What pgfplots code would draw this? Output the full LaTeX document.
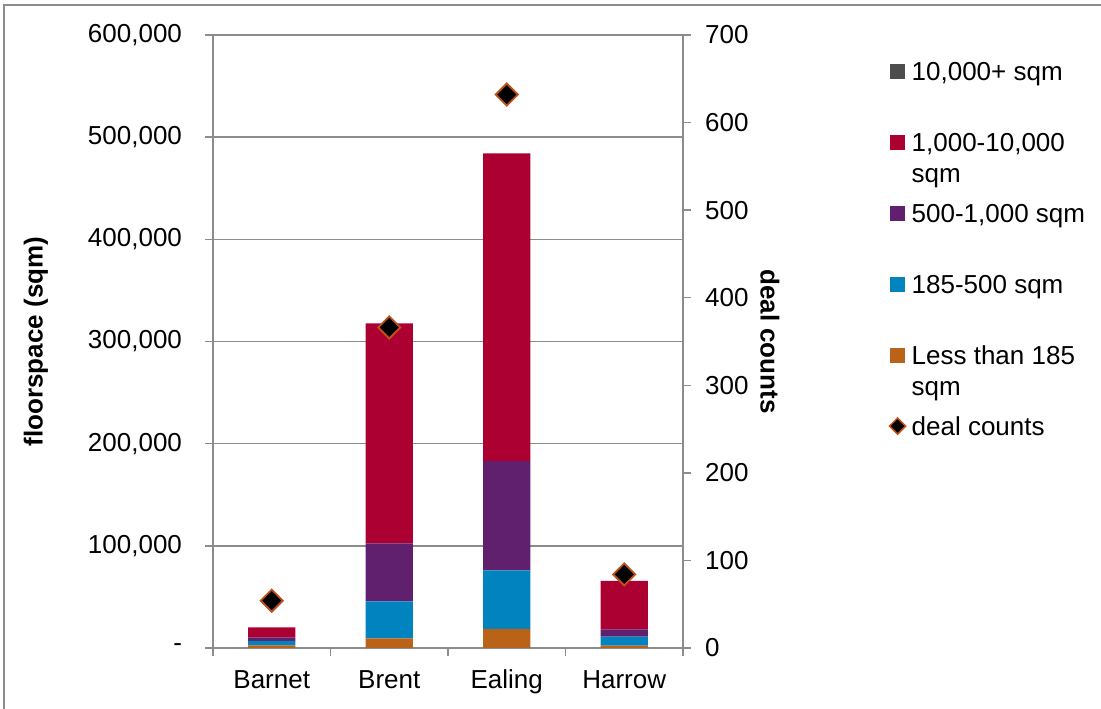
\documentclass[border=0pt]{standalone}
\usepackage{fontspec}
\setmainfont{Liberation Sans}
\usepackage{pgfplots}
\pgfplotsset{compat=1.18}

\definecolor{cBig}{HTML}{4D4D4D}
\definecolor{cLarge}{HTML}{AD0032}
\definecolor{cMid}{HTML}{60206E}
\definecolor{cSmall}{HTML}{0083BF}
\definecolor{cTiny}{HTML}{BA6217}
\definecolor{cEdge}{HTML}{C0501A}
\definecolor{axisgray}{HTML}{8C8C8C}

\pgfplotsset{
  /pgf/number format/assume math mode=true,
  frame/.style={
    scale only axis, width=180.77pt, height=235.77pt,
    at={(81.92pt,23.46pt)}, anchor=south west,
    xmin=-0.5, xmax=3.5,
    tick align=outside, major tick length=3pt,
    axis line style={draw=axisgray, line width=0.6pt},
    every tick/.style={draw=axisgray, line width=0.6pt},
    tick label style={font=\fontsize{10}{12}\selectfont, text=black},
    label style={font=\fontsize{10}{12}\selectfont\bfseries},
  },
}

\begin{document}
\begin{tikzpicture}
\useasboundingbox (0,0) rectangle (423.46pt,272.69pt);
\draw[axisgray, line width=0.8pt] (1.54pt,-5pt) -- (1.54pt,270.77pt) -- (430pt,270.77pt);

% floorspace by unit size band, stacked
\begin{axis}[frame,
  ybar stacked, bar width=18.1pt,
  ymin=0, ymax=600000,
  axis x line*=bottom, axis y line*=left,
  ytick={0,100000,200000,300000,400000,500000,600000},
  yticklabels={{-\hspace{2.3pt}},{100,000},{200,000},{300,000},{400,000},{500,000},{600,000}},
  yticklabel style={xshift=-5.4pt},
  scaled y ticks=false,
  ymajorgrids, major grid style={draw=axisgray, line width=0.6pt},
  xtick={-0.5,0.5,1.5,2.5,3.5}, xticklabels={},
  extra x ticks={0,1,2,3}, extra x tick labels={Barnet,Brent,Ealing,Harrow},
  extra x tick style={major tick length=0pt},
  xticklabel style={anchor=base, yshift=-15.5pt},
  ylabel={floorspace (sqm)},
  ylabel style={at={(axis description cs:-0.377,0.5)}, anchor=center},
]
\addplot[fill=cTiny, draw=none]  coordinates {(0,2600) (1,9500) (2,18600) (3,2300)};
\addplot[fill=cSmall, draw=none] coordinates {(0,4300) (1,36200) (2,57400) (3,8800)};
\addplot[fill=cMid, draw=none]   coordinates {(0,3600) (1,56600) (2,107000) (3,7200)};
\addplot[fill=cLarge, draw=none] coordinates {(0,9800) (1,215500) (2,301200) (3,47300)};
\addplot[fill=cBig, draw=none]   coordinates {(0,0) (1,0) (2,0) (3,0)};
\end{axis}

% number of deals, right-hand scale
\begin{axis}[frame,
  ymin=0, ymax=700,
  axis y line*=right, axis x line=none,
  ytick={0,100,200,300,400,500,600,700},
  yticklabel style={xshift=2pt},
  ylabel={deal counts},
  ylabel style={at={(axis description cs:1.185,0.5)}, anchor=center, rotate=180},
  legend cell align=left,
  legend style={at={(axis description cs:1.4383,0.9651)}, anchor=north west,
    draw=none, fill=none, inner sep=0pt, row sep=16.3pt, column sep=1.3pt,
    font=\fontsize{10}{12}\selectfont,
    nodes={inner sep=1pt, text height=8pt, text depth=1pt}},
]
\addlegendimage{legend image code/.code={\fill[cBig] (0pt,-2.7pt) rectangle (5.4pt,2.7pt);}}
\addlegendentry{10,000+ sqm}
\addlegendimage{legend image code/.code={\fill[cLarge] (0pt,-2.7pt) rectangle (5.4pt,2.7pt);}}
\addlegendentry{\smash{\begin{tabular}[t]{@{}l@{}}1,000-10,000\\sqm\end{tabular}}}
\addlegendimage{legend image code/.code={\fill[cMid] (0pt,-2.7pt) rectangle (5.4pt,2.7pt);}}
\addlegendentry{500-1,000 sqm}
\addlegendimage{legend image code/.code={\fill[cSmall] (0pt,-2.7pt) rectangle (5.4pt,2.7pt);}}
\addlegendentry{185-500 sqm}
\addlegendimage{legend image code/.code={\fill[cTiny] (0pt,-2.7pt) rectangle (5.4pt,2.7pt);}}
\addlegendentry{\smash{\begin{tabular}[t]{@{}l@{}}Less than 185\\sqm\end{tabular}}}
\addplot[only marks, mark=square*, mark size=3pt,
  mark options={rotate=45, fill=black, draw=cEdge, line width=0.7pt},
  legend image code/.code={\path[mark=square*, mark size=2.2pt,
    mark options={rotate=45, fill=black, draw=cEdge, line width=0.6pt}]
    plot coordinates {(2.7pt,0pt)};}]
  coordinates {(0,54) (1,366) (2,632) (3,84)};
\addlegendentry{deal counts}
\end{axis}
\end{tikzpicture}
\end{document}
